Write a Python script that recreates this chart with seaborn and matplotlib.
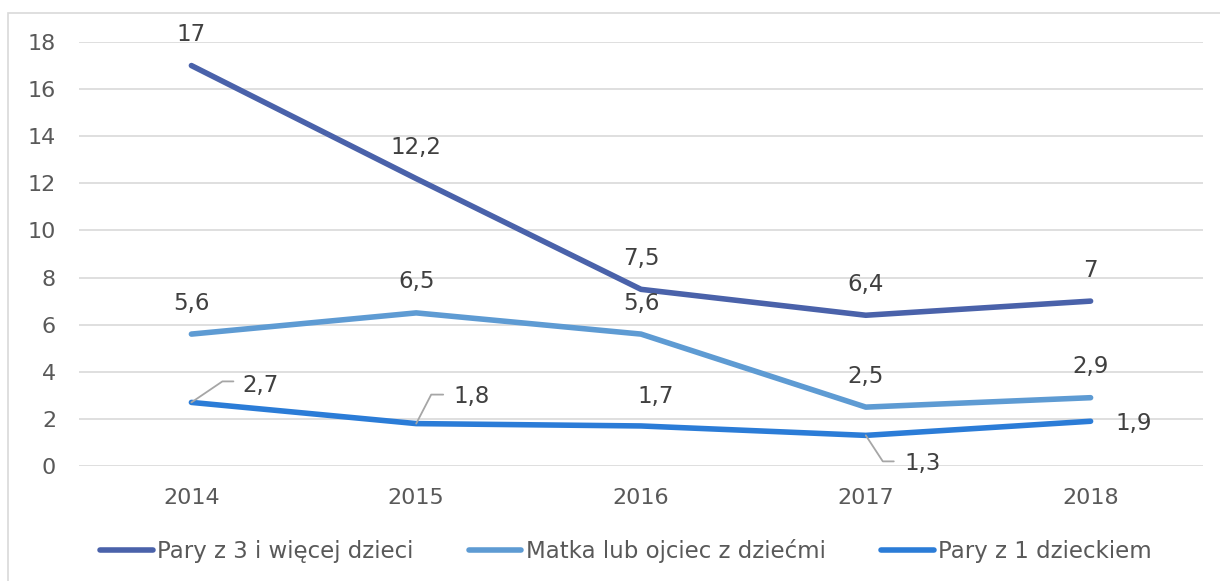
import pandas as pd
import matplotlib
matplotlib.use("Agg")
import matplotlib.pyplot as plt
from matplotlib.patches import Rectangle
import seaborn as sns

YEARS = ['2014', '2015', '2016', '2017', '2018']
SERIES = ['Pary z 3 i więcej dzieci', 'Matka lub ojciec z dziećmi', 'Pary z 1 dzieckiem']
PARY_3 = [17, 12.2, 7.5, 6.4, 7]
MATKA_OJCIEC = [5.6, 6.5, 5.6, 2.5, 2.9]
PARY_1 = [2.7, 1.8, 1.7, 1.3, 1.9]
Y_TICKS = [0, 2, 4, 6, 8, 10, 12, 14, 16, 18]

COLORS = ['#4A62AA', '#5E9BD3', '#2B7CD7']

sns.set_style("white")
plt.rcParams['font.family'] = 'sans-serif'
plt.rcParams['font.sans-serif'] = ['DejaVu Sans']

df = pd.DataFrame({
    'Rok': YEARS * 3,
    'Seria': [s for s in SERIES for _ in YEARS],
    'Wartosc': PARY_3 + MATKA_OJCIEC + PARY_1,
})
df['x'] = df['Rok'].map({y: i for i, y in enumerate(YEARS)})

fig = plt.figure(figsize=(12.2, 5.81), dpi=100)
ax = fig.add_axes([79 / 1220, 1 - 466 / 581, (1203 - 79) / 1220, (466 - 42) / 581])

# light frame around the chart area (Excel style)
fig.patches.append(Rectangle((8 / 1220, -0.05), 1.1, 1 - 13 / 581 + 0.05,
                             transform=fig.transFigure, fill=False,
                             edgecolor='#D9D9D9', linewidth=1.2))

sns.lineplot(data=df, x='x', y='Wartosc', hue='Seria', hue_order=SERIES,
             palette=COLORS, linewidth=4.0, ax=ax, legend=False,
             solid_capstyle='round', solid_joinstyle='round', zorder=3)

ax.set_xlim(-0.5, len(YEARS) - 0.5)
ax.set_ylim(0, 18)
ax.set_yticks(Y_TICKS)
ax.set_xticks(range(len(YEARS)))
ax.set_xticklabels(YEARS)
ax.set_xlabel('')
ax.set_ylabel('')
ax.grid(axis='y', color='#D9D9D9', linewidth=1.2)
ax.set_axisbelow(True)
for s in ax.spines.values():
    s.set_visible(False)
ax.tick_params(axis='both', length=0, labelsize=16, colors='#595959')
ax.tick_params(axis='y', pad=16.5)
ax.tick_params(axis='x', pad=16)


def fmt(v):
    return ('%g' % v).replace('.', ',')


# label offsets in pixels (dx, dy) per series / point
above = [(0, 31)] * 5
offsets = [
    above,
    above,
    [(69, 17), (55, 27), (15, 29), (57, -28), (43, -2)],
]
# leader lines for selected labels: (elbow, end) offsets in pixels
leaders = {
    (2, 0): [(31, 21), (42, 21)],
    (2, 1): [(15, 29), (27, 29)],
    (2, 3): [(17, -26), (28, -26)],
}

values = [PARY_3, MATKA_OJCIEC, PARY_1]
for si, vals in enumerate(values):
    for i, v in enumerate(vals):
        dx, dy = offsets[si][i]
        ax.annotate(fmt(v), (i, v), xytext=(dx, dy), textcoords='offset pixels',
                    ha='center', va='center', fontsize=16.5, color='#404040', zorder=5)
        if (si, i) in leaders:
            pts = [(0, 0)] + leaders[(si, i)]
            xs, ys = [], []
            for px, py in pts:
                disp = ax.transData.transform((i, v)) + [px, py]
                xd, yd = ax.transData.inverted().transform(disp)
                xs.append(xd)
                ys.append(yd)
            ax.plot(xs, ys, color='#A6A6A6', linewidth=1.3, zorder=4)

handles = [plt.Line2D([0], [0], color=c, linewidth=4.0, solid_capstyle='round') for c in COLORS]
fig.legend(handles, SERIES, loc='center', bbox_to_anchor=(626 / 1220, 1 - 551 / 581),
           ncol=3, frameon=False, fontsize=16.5, handlelength=2.3, handletextpad=0.2,
           columnspacing=2.4, labelcolor='#595959')

fig.savefig('out.png', dpi=100)
